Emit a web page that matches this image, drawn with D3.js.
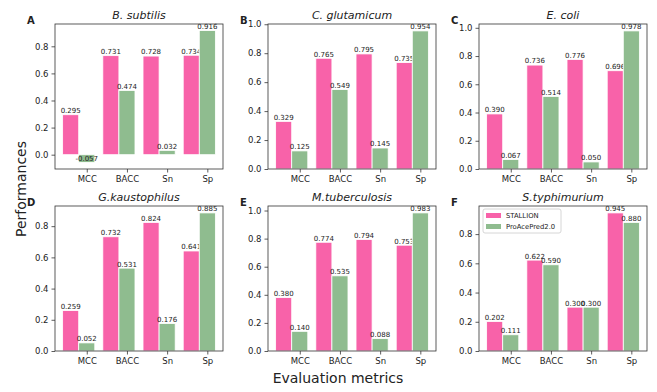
<!DOCTYPE html>
<html>
<head>
<meta charset="utf-8">
<script src="https://cdn.jsdelivr.net/npm/d3@7"></script>
<style>
    body { margin: 0; background: #fff; }
    svg text { font-family: "DejaVu Sans", sans-serif; fill: #222; }
    .axis path, .axis line { stroke: #333; stroke-width: 0.8; }
    .axis text { font-size: 8.5px; }
</style>
</head>
<body>
<svg id="chart" width="657" height="392"></svg>
<script>
const species = ["B. subtilis", "C. glutamicum", "E. coli", "G.kaustophilus", "M.tuberculosis", "S.typhimurium"];
const panel_letters = ["A", "B", "C", "D", "E", "F"];
const metrics = ["MCC", "BACC", "Sn", "Sp"];
const series_names = ["STALLION", "ProAcePred2.0"];

const stallion = [
    [0.295, 0.731, 0.728, 0.734],
    [0.329, 0.765, 0.795, 0.735],
    [0.390, 0.736, 0.776, 0.696],
    [0.259, 0.732, 0.824, 0.641],
    [0.380, 0.774, 0.794, 0.753],
    [0.202, 0.622, 0.300, 0.945]
];
const proacepred = [
    [-0.057, 0.474, 0.032, 0.916],
    [0.125, 0.549, 0.145, 0.954],
    [0.067, 0.514, 0.050, 0.978],
    [0.052, 0.531, 0.176, 0.885],
    [0.140, 0.535, 0.088, 0.983],
    [0.111, 0.590, 0.300, 0.880]
];

const col_left = [55, 268, 479],
    row_top = [24, 206],
    panel_width = 168,
    panel_height = 145;

const bar_w = 0.4;
const colors = ["#f862a9", "#8fbc8f"];

const svg = d3.select("#chart");

function draw_panel(k) {
    var left = col_left[k % 3],
        top = row_top[Math.floor(k / 3)];

    var vals = stallion[k].concat(proacepred[k]);
    var lo = Math.min(0, d3.min(vals)),
        hi = Math.max(0, d3.max(vals)),
        pad = (hi - lo) * 0.05;
    // matplotlib style margins, bars stick to zero
    var y_lo = lo < 0 ? lo - pad : 0,
        y_hi = hi + pad;

    var x = d3.scaleLinear()
        .domain([-bar_w / 2 - 0.19, metrics.length - 1 + 1.5 * bar_w + 0.19])
        .range([left, left + panel_width]);

    var y = d3.scaleLinear()
        .domain([y_lo, y_hi])
        .range([top + panel_height, top]);

    var g = svg.append("g").attr("class", "panel");

    var layers = [stallion[k], proacepred[k]];

    layers.forEach(function (data, s) {
        g.selectAll(".bar" + s)
            .data(data)
            .enter()
            .append("rect")
            .attr("class", "bar" + s)
            .attr("x", function (d, i) { return x(i - bar_w / 2 + s * bar_w); })
            .attr("width", function () { return x(bar_w) - x(0); })
            .attr("y", function (d) { return y(Math.max(0, d)); })
            .attr("height", function (d) { return Math.abs(y(d) - y(0)); })
            .attr("fill", colors[s])
            .attr("stroke", "#fff")
            .attr("stroke-width", 0.8);

        g.selectAll(".lab" + s)
            .data(data)
            .enter()
            .append("text")
            .attr("class", "lab" + s)
            .attr("x", function (d, i) { return x(i + s * bar_w); })
            .attr("y", function (d) { return y(d) - 1.6; })
            .attr("text-anchor", "middle")
            .style("font-size", "7px")
            .text(function (d) { return d3.format(".3f")(d).replace("−", "-"); });
    });

    // frame
    g.append("rect")
        .attr("x", left)
        .attr("y", top)
        .attr("width", panel_width)
        .attr("height", panel_height)
        .attr("fill", "none")
        .attr("stroke", "#333")
        .attr("stroke-width", 0.8);

    var yticks = d3.range(0, y_hi + 1e-9, 0.2);

    g.append("g")
        .attr("class", "axis")
        .attr("transform", "translate(" + left + ",0)")
        .call(d3.axisLeft(y)
            .tickValues(yticks)
            .tickSize(3.5)
            .tickPadding(3)
            .tickFormat(d3.format(".1f")))
        .select(".domain").remove();

    g.append("g")
        .attr("class", "axis")
        .attr("transform", "translate(0," + (top + panel_height) + ")")
        .call(d3.axisBottom(x)
            .tickValues(metrics.map(function (d, i) { return i + bar_w; }))
            .tickSize(3.5)
            .tickPadding(3)
            .tickFormat(function (d, i) { return metrics[i]; }))
        .select(".domain").remove();

    g.append("text")
        .attr("x", left + panel_width / 2)
        .attr("y", top - 5)
        .attr("text-anchor", "middle")
        .style("font-size", "11px")
        .style("font-style", "italic")
        .text(species[k]);

    g.append("text")
        .attr("x", left - 28)
        .attr("y", top - 0.5)
        .style("font-size", "10px")
        .style("font-weight", "bold")
        .text(panel_letters[k]);

    if (k === 5) {
        var legend = g.append("g")
            .attr("transform", "translate(" + (left + 4) + "," + (top + 3) + ")");
        legend.append("rect")
            .attr("width", 78)
            .attr("height", 24)
            .attr("rx", 2)
            .attr("fill", "#fff")
            .attr("fill-opacity", 0.8)
            .attr("stroke", "#ccc")
            .attr("stroke-width", 0.8);
        series_names.forEach(function (name, s) {
            legend.append("rect")
                .attr("x", 3)
                .attr("y", 4 + s * 11)
                .attr("width", 15)
                .attr("height", 5)
                .attr("fill", colors[s]);
            legend.append("text")
                .attr("x", 23)
                .attr("y", 9.2 + s * 11)
                .style("font-size", "6.8px")
                .text(name);
        });
    }
}

for (var k = 0; k < species.length; k++) draw_panel(k);

svg.append("text")
    .attr("transform", "translate(26,189) rotate(-90)")
    .attr("text-anchor", "middle")
    .style("font-size", "14px")
    .text("Performances");

svg.append("text")
    .attr("x", 338)
    .attr("y", 383)
    .attr("text-anchor", "middle")
    .style("font-size", "14px")
    .text("Evaluation metrics");
</script>
</body>
</html>
